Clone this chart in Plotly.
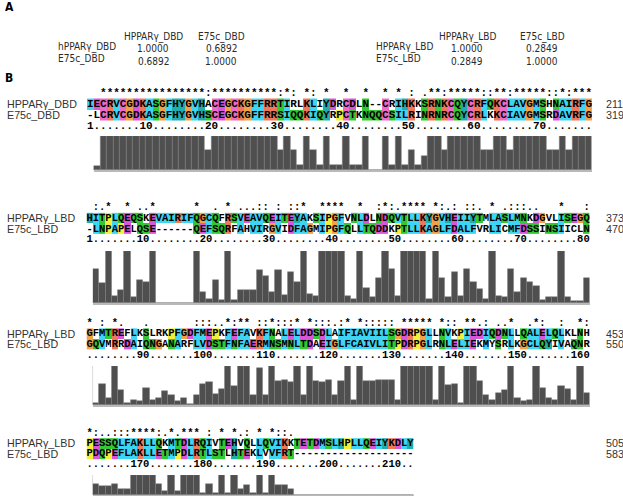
import plotly.graph_objects as go

W, H = 623, 496

# ---------------- Panel A data ----------------
dbd_headers = ["HPPARγ_DBD", "E75c_DBD"]
dbd_rows = ["hPPARγ_DBD", "E75c_DBD"]
dbd_values = [["1.0000", "0.6892"], ["0.6892", "1.0000"]]
lbd_headers = ["HPPARγ_LBD", "E75c_LBD"]
lbd_rows = ["HPPARγ_LBD", "E75c_LBD"]
lbd_values = [["1.0000", "0.2849"], ["0.2849", "1.0000"]]

# ---------------- Panel B data ----------------
block_names = [["HPPARγ_DBD", "E75c_DBD"], ["HPPARγ_LBD", "E75c_LBD"],
               ["HPPARγ_LBD", "E75c_LBD"], ["HPPARγ_LBD", "E75c_LBD"]]
end_numbers = [["211", "319"], ["373", "470"], ["453", "550"], ["505", "583"]]

seq1 = [
    "IECRVCGDKASGFHYGVHACEGCKGFFRRTIRLKLIYDRCDLN--CRIHKKSRNKCQYCRFQKCLAVGMSHNAIRFG",
    "HITPLQEQSKEVAIRIFQGCQFRSVEAVQEITEYAKSIPGFVNLDLNDQVTLLKYGVHEIIYTMLASLMNKDGVLISEGQ",
    "GFMTREFLKSLRKPFGDFMEPKFEFAVKFNALELDDSDLAIFIAVIILSGDRPGLLNVKPIEDIQDNLLQALELQLKLNH",
    "PESSQLFAKLLQKMTDLRQIVTEHVQLLQVIKKTETDMSLHPLLQEIYKDLY",
]
seq2 = [
    "-LCRVCGDKASGFHYGVHSCEGCKGFFRRSIQQKIQYRPCTKNQQCSILRINRNRCQYCRLKKCIAVGMSRDAVRFG",
    "-LNPAPELQSE------QEFSQRFAHVIRGVIDFAGMIPGFQLLTQDDKPTLLKAGLFDALFVRLICMFDSSINSIICLN",
    "GQVMRRDAIQNGANARFLVDSTFNFAERMNSMNLTDAEIGLFCAIVLITPDRPGLRNLELIEKMYSRLKGCLQYIVAQNR",
    "PDQPEFLAKLLETMPDLRTLSTLHTEKLVVFRT-------------------",
]
cons = [
    "  ****************:**********:*: *: *  *  *  * * : .**:*****::**:*****::*:***",
    " :.*" "  *" " .." "*" "      " "*" "  ." " *" " ..." "::" " :" " ::" "*" "  ****"
    "  *" "  :" "*:." "****" " *" ":.:" " ::." " *" " .:::.." "   *" "   :",
    "* : *." "   ." "       " ":::.." "*:**" " ::*" ":::*" " *" ":::.:*" " *" ":::::"
    " *****" " *::" " **.:" " ..*" "  .*:" "  :" "  *:",
    "*:..:::" "****" ":.*." "***" " : * *.:" " * *::." "                   ",
]
ruler = [
    "1.......10........20........30........40........50........60........70.......",
    "1.......10........20........30........40........50........60........70........80",
    "........90.......100.......110.......120.......130.......140.......150.......160",
    ".......170.......180.......190.......200.......210..",
]
quality = [
    [0, 0.12, 1, 1, 1, 1, 1, 1, 1, 1, 1, 1, 1, 1, 1, 1, 1, 1, 0.6, 1, 1, 1, 1, 1, 1, 1,
     1, 1, 1, 0.6, 1, 0.6, 0.15, 1, 0.6, 0.15, 1, 0.15, 0.15, 1, 0.15, 0.15, 1, 0, 0,
     1, 0.15, 1, 0.15, 0.6, 0.15, 0.4, 1, 1, 0.6, 1, 1, 1, 1, 1, 0.6, 0.6, 1, 1, 0.6,
     1, 1, 1, 1, 1, 0.6, 0.6, 1, 0.6, 1, 1, 1],
    [0, 0.65, 0.38, 1, 0.14, 0.25, 1, 0.11, 0.45, 0.41, 1, 0, 0, 0, 0, 0, 0, 1, 0.22,
     0.08, 0.45, 0.05, 1, 0.05, 0.25, 0.25, 0.25, 0.63, 0.52, 0.22, 0.63, 0.16, 0.6,
     0.41, 1, 0.18, 0.14, 1, 1, 1, 1, 0.14, 0.08, 1, 0.29, 0.11, 0.49, 1, 0.65, 0.14,
     1, 1, 1, 1, 0.08, 1, 0.49, 0.11, 0.6, 0.14, 0.65, 0.41, 0.27, 0.08, 1, 0.14, 0.11,
     0.65, 0.22, 0.49, 0.41, 0.33, 0.05, 0.11, 0.11, 1, 0.11, 0.03, 0.03, 0.49],
    [1, 0.05, 0.54, 0.19, 1, 0.38, 0.05, 0.14, 0.11, 0.44, 0.12, 0.19, 0.35, 0.25, 0.09,
     0.19, 0.03, 0.25, 0.54, 0.59, 0.27, 0.41, 1, 0.48, 1, 1, 0.25, 0.95, 0.25, 1, 0.62,
     0.65, 0.59, 1, 0.25, 1, 0.62, 0.59, 0.65, 0.25, 0.62, 1, 0.12, 1, 0.62, 0.62, 0.65,
     0.65, 0.65, 0.14, 1, 1, 1, 1, 1, 0.14, 1, 0.52, 0.54, 0.05, 1, 1, 0.62, 0.25, 0.12,
     0.32, 0.38, 1, 0.19, 0.09, 0.14, 1, 0.44, 0.19, 0.14, 0.48, 0.41, 0.12, 1, 0.3],
    [1, 0.55, 0.45, 0.45, 0.55, 0.3, 0.3, 1, 1, 1, 1, 0.55, 0.2, 1, 0.2, 1, 1, 1, 0.1,
     0.55, 0.1, 1, 0.1, 1, 0.3, 0.5, 0.1, 1, 0.1, 1, 0.5, 0.5, 0.3, 0, 0, 0, 0, 0, 0, 0,
     0, 0, 0, 0, 0, 0, 0, 0, 0, 0, 0, 0],
]

# ---------------- styling ----------------
PALETTE = ["#3DD5F3", "#F0785A", "#D955D9", "#33C733", "#EE6AC8", "#F2A14B", "#F0F03C", "#21ADAD"]


def col_classes(res):
    r = [c for c in res if c != '-']
    cls = set()
    if not r:
        return cls
    n = len(r)
    f = lambda g: sum(c in g for c in r) / n
    if f("WLVIMAFCYHP") >= 0.6: cls.add('%')
    if f("WLVIMAFCYHP") >= 0.8: cls.add('#')
    if f("ED") >= 0.5: cls.add('-')
    if f("KR") >= 0.6: cls.add('+')
    if f("G") >= 0.5: cls.add('g')
    if f("N") >= 0.5: cls.add('n')
    if f("QE") >= 0.5: cls.add('q')
    if f("P") >= 0.5: cls.add('p')
    if f("TS") >= 0.5: cls.add('t')
    for a in set(r):
        if f(a) >= 0.85: cls.add(a)
    return cls


HYD_TRIG = "%#ACFHILMVWYPp"
RULES = {}
for aa in "AILMFWV":
    RULES[aa] = [(1, HYD_TRIG)]
RULES['C'] = [(5, "C"), (1, "%#AFHILMVWYSPp")]
RULES['H'] = [(8, HYD_TRIG)]
RULES['Y'] = [(8, HYD_TRIG)]
RULES['K'] = [(2, "+KR")]
RULES['R'] = [(2, "+KR")]
RULES['E'] = [(3, "-DEqQ")]
RULES['D'] = [(3, "-DEnN")]
RULES['N'] = [(4, "nND")]
RULES['Q'] = [(4, "qQE+KR")]
RULES['S'] = [(4, "tST#")]
RULES['T'] = [(4, "tST%#")]
RULES['G'] = [(6, "g")]
RULES['P'] = [(7, "p")]


def colour_code(ch, cls):
    for code, trig in RULES.get(ch, []):
        if any(t in cls for t in trig):
            return code
    return None


geo = [
    dict(x0=87.0, cw=6.558, row0=93.0, dy=11.0, h0=136, h1=170, fs=11),
    dict(x0=86.5, cw=6.29, row0=207.5, dy=10.7, h0=251, h1=303, fs=10.5),
    dict(x0=86.5, cw=6.29, row0=323, dy=10.7, h0=366, h1=405, fs=10.5),
    dict(x0=86.5, cw=6.29, row0=433, dy=10.4, h0=475, h1=495, fs=10.5),
]
NUM_X = 604
LABEL_X = 5

cs = []
for k, c in enumerate(PALETTE):
    cs.append([k / 8, c])
    cs.append([(k + 1) / 8, c])

fig = go.Figure()
layout = dict(width=W, height=H, margin=dict(l=0, r=0, t=0, b=0),
              paper_bgcolor="white", plot_bgcolor="rgba(0,0,0,0)",
              showlegend=False, bargap=0, annotations=[])

MONO = "Liberation Mono, Courier New, monospace"
SANS = "Liberation Sans, Arial, sans-serif"
COND = "DejaVu Sans Condensed, Liberation Sans Narrow, Arial Narrow, sans-serif"

for b in range(4):
    g = geo[b]
    s1, s2, cn, rl, q = seq1[b], seq2[b], cons[b], ruler[b], quality[b]
    n = len(s1)
    cols = list(range(1, n + 1))
    if b == 0:
        sx, sy, xa_s, ya_s = "x", "y", "xaxis", "yaxis"
    else:
        sx, sy = f"x{2*b+1}", f"y{2*b+1}"
        xa_s, ya_s = f"xaxis{2*b+1}", f"yaxis{2*b+1}"
    hx, hy = f"x{2*b+2}", f"y{2*b+2}"
    xa_h, ya_h = f"xaxis{2*b+2}", f"yaxis{2*b+2}"

    x0 = g["x0"]
    x1 = x0 + n * g["cw"]
    top = g["row0"] - g["dy"] / 2
    bot = g["row0"] + 3.5 * g["dy"]
    layout[xa_s] = dict(domain=[x0 / W, x1 / W], range=[0.5, n + 0.5], visible=False,
                        anchor=sy, fixedrange=True)
    layout[ya_s] = dict(domain=[1 - bot / H, 1 - top / H], range=[3.5, -0.5], visible=False,
                        anchor=sx, fixedrange=True)
    layout[xa_h] = dict(domain=[(x0 + g["cw"]) / W, x1 / W], range=[1.5, n + 0.5],
                        showline=True, linecolor="#b9b9b9", linewidth=2, showgrid=False,
                        zeroline=False, showticklabels=False, ticks="", anchor=hy,
                        fixedrange=True)
    layout[ya_h] = dict(domain=[1 - g["h1"] / H, 1 - g["h0"] / H], range=[0, 1],
                        visible=False, anchor=hx, fixedrange=True)

    z = [[], []]
    for i in range(n):
        cls = col_classes([s1[i], s2[i]])
        for r, s in enumerate((s1, s2)):
            c = colour_code(s[i], cls)
            z[r].append(None if c is None else c - 0.5)
    fig.add_trace(go.Heatmap(x=cols, y=[1, 2], z=z, colorscale=cs, zmin=0, zmax=8,
                             showscale=False, hoverinfo="skip", xaxis=sx, yaxis=sy,
                             xgap=0, ygap=0))
    for row, txt_ in enumerate((cn.ljust(n)[:n], s1, s2, rl.ljust(n)[:n])):
        fig.add_trace(go.Scatter(x=cols, y=[row] * n, mode="text", text=list(txt_),
                                 textposition="middle center", cliponaxis=False,
                                 textfont=dict(family=MONO, size=g["fs"], color="#000000",
                                               weight="bold"),
                                 hoverinfo="skip", xaxis=sx, yaxis=sy))
    fig.add_trace(go.Bar(x=cols, y=q, width=1,
                         marker=dict(color="#4f4f4f", line=dict(color="#7c7c7c", width=0.5)),
                         hoverinfo="skip", xaxis=hx, yaxis=hy))
    for r in range(2):
        layout["annotations"].append(dict(
            x=LABEL_X / W, xref="paper", y=r + 1, yref=sy, text=block_names[b][r],
            showarrow=False, xanchor="left", yanchor="middle",
            font=dict(family=SANS, size=10.7, color="#333333")))
        layout["annotations"].append(dict(
            x=NUM_X / W, xref="paper", y=r + 1, yref=sy, text=end_numbers[b][r],
            showarrow=False, xanchor="left", yanchor="middle",
            font=dict(family=SANS, size=10.7, color="#333333")))

ann = layout["annotations"]


def txt(x, y, t, anchor="center", size=10, fam=COND, bold=False, color="#2a2a2a"):
    ann.append(dict(x=x / W, y=1 - y / H, xref="paper", yref="paper",
                    text=(f"<b>{t}</b>" if bold else t),
                    showarrow=False, xanchor=anchor, yanchor="middle",
                    font=dict(family=fam, size=size, color=color)))


txt(3, 7, "A", anchor="left", size=12, bold=True, color="#000000")
txt(3, 78, "B", anchor="left", size=12, bold=True, color="#000000")

tables = [(dbd_headers, dbd_rows, dbd_values, 56, [153, 221]),
          (lbd_headers, lbd_rows, lbd_values, 374, [467, 542])]
for heads, rows, vals, lx, cx in tables:
    for j, hname in enumerate(heads):
        txt(cx[j], 37, hname)
    for i, rname in enumerate(rows):
        txt(lx, 47.5 + 11.5 * i, rname, anchor="left")
        for j in range(2):
            txt(cx[j], 49 + 12 * i, vals[i][j])

fig.update_layout(**layout)
fig.write_html("out.html", config={"displayModeBar": False},
               post_script="document.body.style.margin='0';document.body.style.overflow='hidden';")
